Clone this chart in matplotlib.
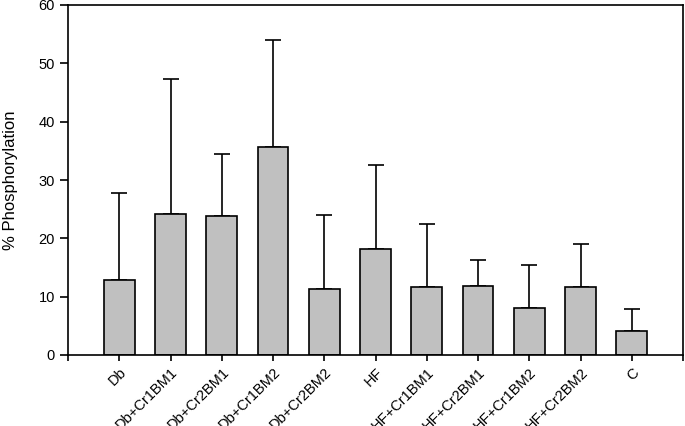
import matplotlib
matplotlib.use("Agg")
from matplotlib import pyplot as plt

groups = ["Db", "Db+Cr1BM1", "Db+Cr2BM1", "Db+Cr1BM2", "Db+Cr2BM2",
          "HF", "HF+Cr1BM1", "HF+Cr2BM1", "HF+Cr1BM2", "HF+Cr2BM2", "C"]
means = [12.8, 24.1, 23.9, 35.7, 11.4, 18.2, 11.7, 11.9, 8.0, 11.7, 4.1]
upper = [27.7, 47.3, 34.5, 54.0, 24.0, 32.5, 22.5, 16.3, 15.4, 19.1, 7.9]
errors = [u - m for u, m in zip(upper, means)]

plt.rcParams["font.family"] = ["Liberation Sans", "DejaVu Sans"]

fig = plt.figure(figsize=(6.85, 4.26), dpi=100)
ax = fig.add_axes([68 / 685, 1 - 355 / 426, (683 - 68) / 685, 350 / 426])

x = list(range(len(groups)))
ax.bar(x, means, width=0.6, color="#c0c0c0", edgecolor="black", linewidth=1.2,
       zorder=2)
# only the upper half of the error bars is shown
ax.errorbar(x, means, yerr=[[0] * len(errors), errors], fmt="none",
            ecolor="black", elinewidth=1.2, capsize=6, capthick=1.2, zorder=1)

ax.set_xlim(-1, len(groups))
ax.set_ylim(0, 60)
ax.set_yticks(range(0, 61, 10))
ax.set_xticks(range(-1, len(groups) + 1))
ax.set_xticklabels([""] + groups + [""], rotation=45, ha="right",
                   rotation_mode="anchor", fontsize=10.5)
ax.tick_params(axis="y", direction="out", length=6, width=1.2, labelsize=10.5)
ax.tick_params(axis="x", direction="out", length=4, width=1.2)
for s in ax.spines.values():
    s.set_linewidth(1.2)
ax.set_ylabel("% Phosphorylation", fontsize=12, labelpad=15)

fig.savefig("out.png", dpi=100)
